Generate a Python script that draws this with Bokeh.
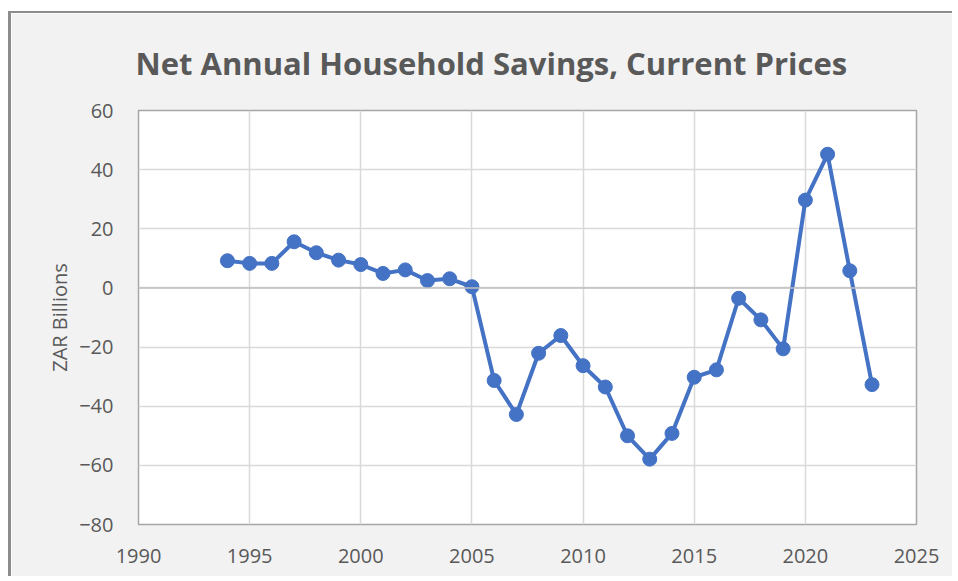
from bokeh.plotting import figure
from bokeh.models import FixedTicker, Span, Title
from bokeh.embed import file_html
from bokeh.resources import INLINE

years = list(range(1994, 2024))
savings = [9.2, 8.3, 8.3, 15.6, 11.9, 9.4, 7.9, 4.9, 6.1, 2.5, 3.1, 0.4,
           -31.3, -42.8, -22.1, -16.1, -26.3, -33.5, -50.0, -57.9, -49.2,
           -30.2, -27.7, -3.5, -10.8, -20.6, 29.7, 45.2, 5.8, -32.7]
x_ticks = [1990, 1995, 2000, 2005, 2010, 2015, 2020, 2025]
y_ticks = [-80, -60, -40, -20, 0, 20, 40, 60]
title_text = "Net Annual Household Savings, Current Prices"
y_label = "ZAR Billions"

FONT = "Open Sans"
GREY = "#595959"
BLUE = "#4472C4"

p = figure(width=944, height=565, output_backend="svg", toolbar_location=None,
           x_range=(1990, 2025), y_range=(-80, 60),
           min_border_left=127, min_border_right=39,
           min_border_top=97, min_border_bottom=54,
           background_fill_color="white", border_fill_color="#f2f2f2")
p.styles = {"margin-left": "8px", "margin-top": "11px",
            "border-left": "3px solid #8c8c8c", "border-top": "2px solid #8c8c8c"}

p.title = Title(text=title_text, align="left", offset=-3, standoff=50,
                vertical_align="top",
                text_font=FONT, text_font_size="31px", text_font_style="bold",
                text_color=GREY)

p.outline_line_color = "#a6a6a6"
p.outline_line_width = 1.5

for ax in (p.xaxis[0], p.yaxis[0]):
    ax.axis_line_color = None
    ax.major_tick_line_color = None
    ax.minor_tick_line_color = None
    ax.major_label_text_font = FONT
    ax.major_label_text_font_size = "20px"
    ax.major_label_text_color = GREY

p.xaxis.major_label_standoff = 18
p.yaxis.major_label_standoff = 19
p.xaxis.ticker = FixedTicker(ticks=x_ticks)
p.yaxis.ticker = FixedTicker(ticks=y_ticks)
p.yaxis.axis_label = y_label
p.yaxis.axis_label_text_font = FONT
p.yaxis.axis_label_text_font_size = "20px"
p.yaxis.axis_label_text_font_style = "normal"
p.yaxis.axis_label_text_color = GREY
p.yaxis.axis_label_standoff = 3

p.xgrid.grid_line_color = "#d9d9d9"
p.ygrid.grid_line_color = "#d9d9d9"
p.xgrid.grid_line_width = 1.5
p.ygrid.grid_line_width = 1.5

p.add_layout(Span(location=0, dimension="width", line_color="#bfbfbf", line_width=1.5))

p.line(years, savings, line_color=BLUE, line_width=4)
p.scatter(years, savings, size=14, fill_color=BLUE, line_color=BLUE)

open("out.html", "w").write(file_html(p, INLINE))
